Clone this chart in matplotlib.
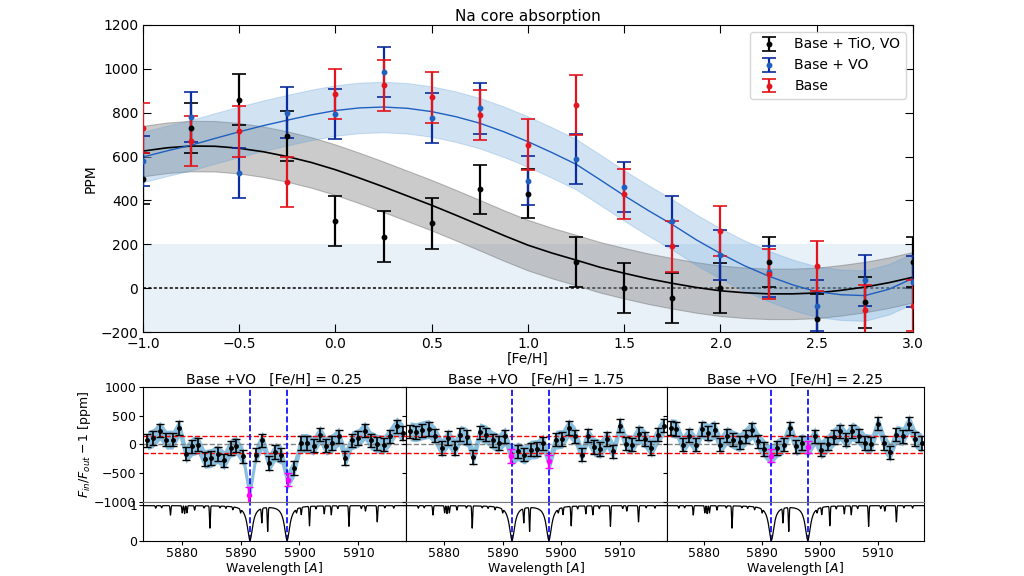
import matplotlib
matplotlib.use('Agg')
import matplotlib.pyplot as plt
import numpy as np

# ---- top panel: Na core absorption vs. metallicity
feh = [-1.0, -0.75, -0.5, -0.25, 0.0, 0.25, 0.5, 0.75, 1.0, 1.25, 1.5, 1.75, 2.0, 2.25, 2.5, 2.75, 3.0]

tio_vo_ppm = [500, 730, 860, 695, 305, 235, 295, 450, 430, 120, 0, -45, 0, 120, -140, -65, 120]
tio_vo_err = [115, 115, 115, 115, 115, 115, 115, 112, 112, 115, 115, 115, 115, 115, 115, 115, 115]

vo_ppm = [580, 780, 525, 800, 795, 985, 775, 820, 490, 590, 460, 305, 150, 75, -80, 35, 30]
vo_err = [115, 115, 115, 115, 115, 115, 115, 115, 112, 115, 115, 115, 115, 115, 115, 115, 115]

base_ppm = [730, 670, 715, 485, 885, 925, 870, 790, 655, 835, 430, 190, 260, 65, 100, -100, -80]
base_err = [115, 115, 115, 115, 115, 115, 115, 115, 115, 135, 115, 115, 115, 115, 115, 115, 115]

# fitted curves
fit_feh = [-1.0, -0.875, -0.75, -0.625, -0.5, -0.375, -0.25, -0.125, 0.0, 0.125, 0.25, 0.375,
           0.5, 0.625, 0.75, 0.875, 1.0, 1.125, 1.25, 1.375, 1.5, 1.625, 1.75, 1.875,
           2.0, 2.125, 2.25, 2.375, 2.5, 2.625, 2.75, 2.875, 3.0]
tio_vo_fit = [625, 640, 648, 647, 638, 622, 600, 573, 540, 502, 462, 420,
              378, 333, 287, 240, 196, 160, 128, 95, 68, 43, 22, 3,
              -12, -21, -26, -26, -22, -10, 5, 25, 50]
vo_fit = [598, 626, 652, 683, 713, 741, 766, 790, 810, 822, 826, 820,
          805, 782, 752, 713, 668, 618, 565, 494, 422, 354, 290, 220,
          158, 102, 55, 15, -16, -30, -34, -5, 45]
fit_sigma = 115

# ---- bottom panels: transmission spectra around the Na doublet
wl = [5874.2, 5875.2, 5876.3, 5877.4, 5878.5, 5879.6, 5880.7, 5881.8, 5882.8, 5883.9,
      5885.0, 5886.1, 5887.2, 5888.3, 5889.3, 5890.4, 5891.5, 5892.6, 5893.7, 5894.8,
      5895.9, 5896.9, 5898.0, 5899.1, 5900.2, 5901.3, 5902.4, 5903.5, 5904.5, 5905.6,
      5906.7, 5907.8, 5908.9, 5910.0, 5911.1, 5912.1, 5913.2, 5914.3, 5915.4, 5916.5, 5917.6]

spec_025 = [73, 113, 240, 84, 84, 287, -160, -32, -3, -252,
            -235, -165, -275, -61, -21, -205, -873, -177, 73, -322,
            -130, -177, -612, -409, 26, 26, -21, 170, -21, 26,
            142, -235, 73, 113, 240, 73, 14, -3, 142, 316, 200]
spec_175 = [230, 212, 247, 270, 153, -61, 113, -61, 170, 130,
            -217, 212, 170, 73, 26, 142, -200, -118, -177, -90,
            -80, 20, -292, 84, 96, 287, 142, -177, 153, -43,
            -78, 96, -118, 327, 14, -3, 188, 96, -61, 170, 327]
spec_225 = [287, 270, -3, 153, -3, 270, 200, 258, -3, 153,
            84, 38, 142, 258, 55, -78, -195, -61, -3, 280,
            -30, 26, -43, 142, -90, 14, 130, 230, 84, 230,
            153, 26, 14, 362, 26, -136, 170, 142, 362, 96, 26]
na_err_025 = [140, 117]
na_err_175 = [120, 116]
na_err_225 = [115, 107]
point_err = 115
band_err = 165
na_idx = [16, 22]
na_lines = [5891.6, 5897.9]

panel_titles = ['Base +VO   [Fe/H] = 0.25', 'Base +VO   [Fe/H] = 1.75', 'Base +VO   [Fe/H] = 2.25']
panel_specs = [spec_025, spec_175, spec_225]
panel_na_err = [na_err_025, na_err_175, na_err_225]

# stellar reference spectrum: line centre [A] and depth
star_cont = 0.98
na_depth = [0.95, 0.95]
na_gamma = 0.55
line_wl = [5875.6, 5876.6, 5878.1, 5880.1, 5880.5, 5880.9, 5882.2, 5883.8, 5884.8, 5886.5,
           5887.5, 5888.7, 5890.0, 5893.6, 5894.6, 5899.5, 5900.3, 5901.7, 5902.8, 5904.2,
           5905.4, 5906.5, 5908.4, 5910.5, 5911.2, 5913.2, 5914.5, 5916.0]
line_depth = [0.07, 0.06, 0.26, 0.2, 0.22, 0.2, 0.12, 0.06, 0.62, 0.05,
              0.06, 0.08, 0.1, 0.4, 0.66, 0.1, 0.2, 0.54, 0.08, 0.22,
              0.25, 0.08, 0.57, 0.08, 0.15, 0.45, 0.06, 0.07]
line_sigma = 0.07

fig = plt.figure(figsize=(10.24, 5.76), dpi=100)

# ================= top panel
ax = fig.add_axes([0.1396, 0.4236, 0.752, 0.533])
ax.axhspan(-200, 200, color='#dce8f5', alpha=0.65, lw=0, zorder=0)
ax.axhline(0, color='k', ls=(0, (2, 1.5)), lw=1.1, zorder=1)

tv = np.array(tio_vo_fit)
vv = np.array(vo_fit)
ax.fill_between(fit_feh, tv - fit_sigma, tv + fit_sigma, facecolor='#8c8c8c', alpha=0.45,
                edgecolor='#6e6e6e', lw=0.8, zorder=2)
ax.fill_between(fit_feh, vv - fit_sigma, vv + fit_sigma, facecolor='#5b9bd5', alpha=0.28,
                edgecolor='#5b9bd5', lw=0.8, zorder=2)
ax.plot(fit_feh, tio_vo_fit, color='k', lw=1.2, zorder=3)
ax.plot(fit_feh, vo_fit, color='#1f5fbf', lw=1.0, zorder=3)

eb = dict(fmt='o', ms=3.2, capsize=5, elinewidth=1.6, capthick=1.2, zorder=4)
ax.errorbar(feh, tio_vo_ppm, yerr=tio_vo_err, color='k', label='Base + TiO, VO', **eb)
c = ax.errorbar(feh, vo_ppm, yerr=vo_err, color='#1f5fbf', ecolor='#0b2c9e', label='Base + VO', **eb)
for cl in c[1]:
    cl.set_color('#3d8fd6')
ax.errorbar(feh, base_ppm, yerr=base_err, color='#e3141b', label='Base', **eb)

ax.set_xlim(-1, 3)
ax.set_ylim(-200, 1200)
ax.set_xticks(np.arange(-1.0, 3.01, 0.5))
ax.set_yticks(np.arange(-200, 1201, 200))
ax.tick_params(direction='in', top=True, right=True, length=6, labelsize=10)
ax.set_title('Na core absorption', fontsize=11, pad=3)
ax.set_xlabel('[Fe/H]', fontsize=10, labelpad=1)
ax.set_ylabel('PPM', fontsize=10, labelpad=2)
ax.legend(loc='upper right', fontsize=10, borderaxespad=0.5)

# ================= bottom panels
lefts = [0.140, 0.3965, 0.651]
widths = [0.256, 0.2545, 0.2515]
xfine = np.linspace(5873.5, 5918, 3000)
flux = np.full_like(xfine, star_cont)
for c0, d in zip(line_wl, line_depth):
    flux -= d * np.exp(-0.5 * ((xfine - c0) / line_sigma) ** 2)
for c0, d in zip(na_lines, na_depth):
    flux -= d / (1 + ((xfine - c0) / na_gamma) ** 2)
flux = np.clip(flux, 0.02, None)

wl_arr = np.array(wl)
for k in range(3):
    vals = np.array(panel_specs[k])
    axu = fig.add_axes([lefts[k], 0.1285, widths[k], 0.1997])
    axl = fig.add_axes([lefts[k], 0.0608, widths[k], 0.0677])

    axu.fill_between(wl, vals - band_err, vals + band_err, color='#6baed6', alpha=0.8, lw=0, zorder=1)
    axu.axhline(150, color='red', ls='--', lw=1.0, zorder=2)
    axu.axhline(-150, color='red', ls='--', lw=1.0, zorder=2)
    axu.axhline(0, color='gray', ls='--', lw=1.0, zorder=2)
    mask = np.ones(len(wl), bool)
    mask[na_idx] = False
    axu.errorbar(wl_arr[mask], vals[mask], yerr=point_err, fmt='o', ms=2.5, color='k',
                 capsize=3, elinewidth=1.2, capthick=1.0, zorder=4)
    axu.errorbar(wl_arr[na_idx], vals[na_idx], yerr=panel_na_err[k], fmt='o', ms=3, color='magenta',
                 capsize=3, elinewidth=1.6, capthick=1.0, zorder=5)
    for lw0 in na_lines:
        axu.axvline(lw0, color='blue', ls='--', lw=1.2, zorder=3)
        axl.axvline(lw0, color='blue', ls='--', lw=1.2, zorder=1)
    axu.set_xlim(5873.5, 5918)
    axu.set_ylim(-1000, 1000)
    axu.set_yticks([-1000, -500, 0, 500, 1000])
    axu.tick_params(bottom=False, labelbottom=False, labelsize=9, length=3, pad=2)
    axu.set_title(panel_titles[k], fontsize=10, pad=2)
    axu.spines['bottom'].set_color('#777777')

    axl.plot(xfine, flux, color='k', lw=0.9, zorder=2)
    axl.set_xlim(5873.5, 5918)
    axl.set_ylim(0, 1.08)
    axl.set_yticks([0, 1])
    axl.set_xticks([5880, 5890, 5900, 5910])
    axl.tick_params(labelsize=9, length=3, pad=1.5)
    axl.set_xlabel('Wavelength [$A$]', fontsize=9, labelpad=0)
    axl.spines['top'].set_color('#777777')
    if k == 0:
        axu.set_ylabel(r'$F_{in}/F_{out} - 1$ [ppm]', fontsize=9, labelpad=1)
    else:
        axu.tick_params(labelleft=False)
        axl.tick_params(labelleft=False)

fig.savefig('out.png', dpi=100)
